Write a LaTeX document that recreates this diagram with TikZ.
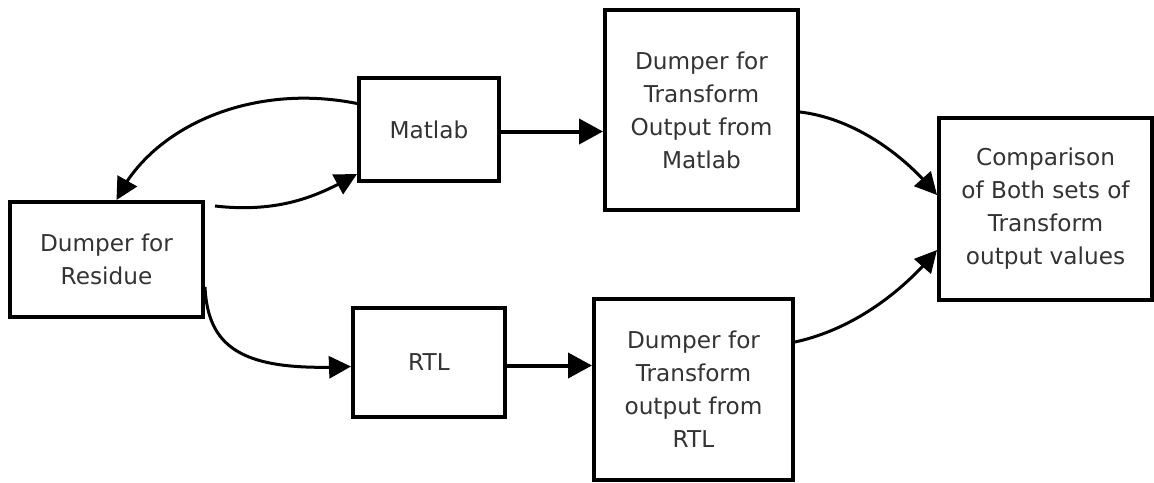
\documentclass[tikz,border=0pt]{standalone}
\usepackage{fontspec}
\setmainfont{DejaVu Sans}
\usetikzlibrary{arrows.meta,bending}
\definecolor{txt}{HTML}{333333}
\begin{document}
\begin{tikzpicture}[x=0.5pt,y=-0.5pt,
  blk/.style={draw=black,line width=2pt,rectangle,inner sep=0pt,align=center,
    text=txt,font=\fontsize{11.6pt}{16.5pt}\selectfont},
  conn/.style={line width=2pt,-{Triangle[length=12pt,width=12.5pt]}},
  cconn/.style={line width=1.5pt,-{Triangle[length=11pt,width=11pt]}}]
\useasboundingbox (0,0) rectangle (1154,482);
\node[blk,minimum width=96.5pt,minimum height=57.5pt] (res) at (106.5,259.5) {Dumper for\\Residue};
\node[blk,minimum width=70pt,minimum height=51.5pt] (mat) at (429,129.5) {Matlab};
\node[blk,minimum width=96.5pt,minimum height=100pt] (dm) at (701.5,110) {Dumper for\\Transform\\Output from\\Matlab};
\node[blk,minimum width=106.5pt,minimum height=91pt] (cmp) at (1045.5,209) {Comparison\\of Both sets of\\Transform\\output values};
\node[blk,minimum width=76pt,minimum height=54.5pt] (rtl) at (429,362.5) {RTL};
\node[blk,minimum width=99.5pt,minimum height=90.5pt] (dr) at (693.5,389.5) {Dumper for\\Transform\\output from\\RTL};
% straight arrows
\draw[conn] ([yshift=-1pt]mat.east) -- ([yshift=-1pt]mat.east -| dm.west);
\draw[conn] ([yshift=-1.5pt]rtl.east) -- ([yshift=-1.5pt]rtl.east -| dr.west);
% curved arrows
\draw[cconn] ([yshift=13pt]mat.west) .. controls (250,82) and (150,128) .. ([xshift=5pt]res.north);
\draw[cconn] ([xshift=5pt,yshift=-3pt]res.north east) .. controls (285,214) and (325,192) .. ([yshift=4.5pt]mat.south west);
\draw[cconn] ([yshift=-13.75pt]res.east) .. controls (208,350) and (245,372) .. ([yshift=-2pt]rtl.west);
\draw[cconn] ([yshift=-1pt]dm.east) .. controls (850,118) and (900,150) .. ([yshift=7pt]cmp.west);
\draw[cconn] ([yshift=23.75pt]dr.east) .. controls (850,330) and (900,295) .. ([yshift=-20.5pt]cmp.west);
\end{tikzpicture}
\end{document}
